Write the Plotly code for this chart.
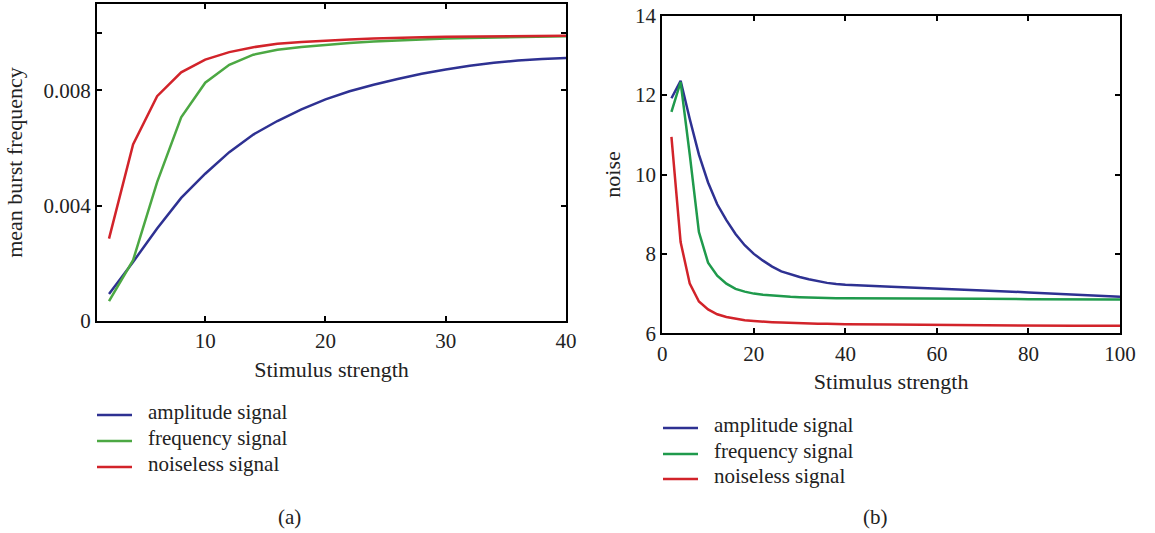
import plotly.graph_objects as go

# ---- Panel (a) data ----
x_a = [2, 4, 6, 8, 10, 12, 14, 16, 18, 20, 22, 24, 26, 28, 30, 32, 34, 36, 38, 40]
amp_a = [0.00094, 0.00205, 0.00321, 0.00427, 0.00511, 0.00586, 0.00647, 0.00694, 0.00734, 0.00769,
         0.00797, 0.00820, 0.00840, 0.00858, 0.00873, 0.00886, 0.00896, 0.00904, 0.00909, 0.00913]
freq_a = [0.00069, 0.00211, 0.00482, 0.00707, 0.00827, 0.00889, 0.00924, 0.00941, 0.00951, 0.00959,
          0.00965, 0.00970, 0.00974, 0.00978, 0.00980, 0.00982, 0.00984, 0.00986, 0.00987, 0.00988]
noiseless_a = [0.00286, 0.00613, 0.00780, 0.00863, 0.00907, 0.00933, 0.00950, 0.00962, 0.00968, 0.00973,
               0.00977, 0.00980, 0.00983, 0.00985, 0.00986, 0.00987, 0.00988, 0.00989, 0.00990, 0.00990]

# ---- Panel (b) data ----
x_b = [2, 4, 6, 8, 10, 12, 14, 16, 18, 20, 22, 24, 26, 28, 30, 32, 34, 36, 38, 40,
       50, 60, 70, 80, 90, 100]
amp_b = [11.92, 12.36, 11.40, 10.50, 9.80, 9.25, 8.85, 8.50, 8.22, 8.00, 7.83, 7.68, 7.56, 7.48, 7.42,
         7.36, 7.31, 7.27, 7.24, 7.22, 7.17, 7.13, 7.08, 7.03, 6.98, 6.92]
freq_b = [11.58, 12.33, 10.50, 8.55, 7.78, 7.45, 7.25, 7.12, 7.05, 7.00, 6.97, 6.95, 6.93, 6.92, 6.91,
          6.90, 6.89, 6.89, 6.88, 6.88, 6.88, 6.87, 6.87, 6.86, 6.86, 6.85]
noiseless_b = [10.95, 8.30, 7.25, 6.80, 6.60, 6.48, 6.41, 6.37, 6.33, 6.31, 6.29, 6.28, 6.27, 6.26, 6.25,
               6.25, 6.24, 6.24, 6.23, 6.23, 6.22, 6.21, 6.21, 6.20, 6.19, 6.19]

names = ["amplitude signal", "frequency signal", "noiseless signal"]
colors_a = ["#2e3192", "#4ca843", "#d2232a"]
colors_b = ["#2e3192", "#1f9a4c", "#d2232a"]

FONT = "Liberation Serif"
FS = 21
TXT = "#222"
W, H = 1155, 533

fig = go.Figure()
for ys, nm, c in zip([amp_a, freq_a, noiseless_a], names, colors_a):
    fig.add_trace(go.Scatter(x=x_a, y=ys, mode="lines", name=nm, line=dict(color=c, width=2.5),
                             xaxis="x", yaxis="y", showlegend=False))
for ys, nm, c in zip([amp_b, freq_b, noiseless_b], names, colors_b):
    fig.add_trace(go.Scatter(x=x_b, y=ys, mode="lines", name=nm, line=dict(color=c, width=2.5),
                             xaxis="x2", yaxis="y2", showlegend=False))

axis_common = dict(showline=True, linecolor="black", linewidth=2, mirror="allticks",
                   ticks="inside", ticklen=5, tickwidth=1.5, tickcolor="black",
                   showgrid=False, zeroline=False, automargin=False,
                   tickfont=dict(family=FONT, size=FS, color=TXT))

# legend drawn below each panel (sample line + label), positions in pixels
def px_x(v):
    return v / W

def px_y(v):
    return 1 - v / H

shapes, annotations = [], []
legend_specs = [
    (97, 132, 146, [415, 441, 467], colors_a),
    (663, 698, 712, [428, 454, 479], colors_b),
]
for x0, x1, xt, ys_px, cols in legend_specs:
    for yp, nm, c in zip(ys_px, names, cols):
        shapes.append(dict(type="line", xref="paper", yref="paper", x0=px_x(x0), x1=px_x(x1),
                           y0=px_y(yp), y1=px_y(yp), line=dict(color=c, width=2.5)))
        annotations.append(dict(text=nm, x=px_x(xt), y=px_y(yp - 3), xref="paper", yref="paper",
                                xanchor="left", yanchor="middle", showarrow=False,
                                font=dict(family=FONT, size=FS, color=TXT)))

annotations += [
    dict(text="(a)", x=px_x(289), y=px_y(517), xref="paper", yref="paper", showarrow=False,
         xanchor="center", yanchor="middle", font=dict(family=FONT, size=FS, color=TXT)),
    dict(text="(b)", x=px_x(875), y=px_y(517), xref="paper", yref="paper", showarrow=False,
         xanchor="center", yanchor="middle", font=dict(family=FONT, size=FS, color=TXT)),
]

fig.update_layout(
    width=W, height=H,
    margin=dict(l=0, r=0, t=0, b=0),
    paper_bgcolor="white", plot_bgcolor="white",
    font=dict(family=FONT, size=FS, color=TXT),
    showlegend=False,
    xaxis=dict(domain=[97 / W, 566 / W], range=[1, 40], tickvals=[10, 20, 30, 40],
               title=dict(text="Stimulus strength", standoff=9, font=dict(family=FONT, size=22)),
               anchor="y", **axis_common),
    yaxis=dict(domain=[1 - 321 / H, 1 - 4 / H], range=[0, 0.011],
               tickvals=[0, 0.004, 0.008, 0.01], ticktext=["0", "0.004", "0.008", ""],
               title=dict(text="mean burst frequency", standoff=15, font=dict(family=FONT, size=22)),
               anchor="x", **axis_common),
    xaxis2=dict(domain=[662.3 / W, 1120 / W], range=[0, 100], tickvals=[0, 20, 40, 60, 80, 100],
                title=dict(text="Stimulus strength", standoff=9, font=dict(family=FONT, size=22)),
                anchor="y2", **axis_common),
    yaxis2=dict(domain=[1 - 333.3 / H, 1 - 15.7 / H], range=[6, 14], tickvals=[6, 8, 10, 12, 14],
                title=dict(text="noise", standoff=8, font=dict(family=FONT, size=22)),
                anchor="x2", **axis_common),
    shapes=shapes,
    annotations=annotations,
)

fig.write_html("out.html", config={"displayModeBar": False},
               post_script="document.body.style.margin='0';document.body.style.overflow='hidden';")
